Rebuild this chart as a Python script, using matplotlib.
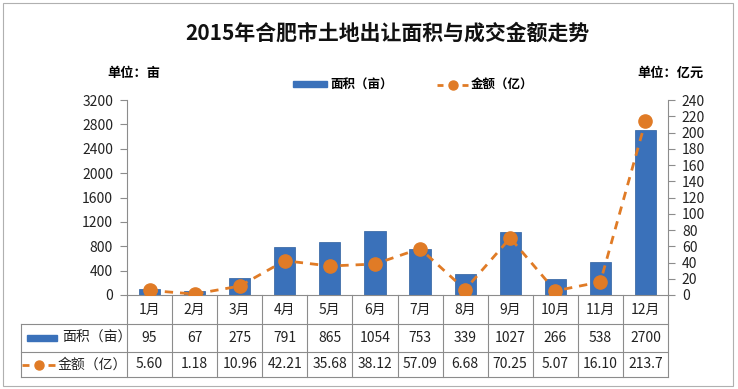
import matplotlib.pyplot as plt
from matplotlib.patches import Rectangle
from matplotlib.lines import Line2D

plt.rcParams['font.family'] = ['Noto Sans CJK SC', 'DejaVu Sans']

months = ['1月', '2月', '3月', '4月', '5月', '6月', '7月', '8月', '9月', '10月', '11月', '12月']
area = [95, 67, 275, 791, 865, 1054, 753, 339, 1027, 266, 538, 2700]
amount = [5.60, 1.18, 10.96, 42.21, 35.68, 38.12, 57.09, 6.68, 70.25, 5.07, 16.10, 213.7]
amount_labels = ['5.60', '1.18', '10.96', '42.21', '35.68', '38.12', '57.09', '6.68', '70.25', '5.07', '16.10', '213.7']

W, H = 738, 389
BLUE = '#3A71BA'
ORANGE = '#E07B26'
GRID = '#8c8c8c'


def fx(px):
    return px / W


def fy(py):
    return 1 - py / H


fig = plt.figure(figsize=(W / 100, H / 100), dpi=100)
fig.add_artist(Rectangle((fx(3), fy(386)), fx(730), (383) / H, fill=False,
                         edgecolor='#b0b0b0', lw=0.8, transform=fig.transFigure))

# main chart
x0, x1, ytop, ybot = 127, 668, 100, 295
ax = fig.add_axes([fx(x0), fy(ybot), (x1 - x0) / W, (ybot - ytop) / H])
xs = list(range(len(months)))
ax.bar(xs, area, width=0.47, color=BLUE, edgecolor='#2d5f9e', lw=0.5, zorder=2)
ax.set_xlim(-0.5, 11.5)
ax.set_ylim(0, 3200)
ax.set_yticks(range(0, 3201, 400))
ax.set_xticks([])
for s in ['top', 'right']:
    ax.spines[s].set_visible(False)
for s in ['left', 'bottom']:
    ax.spines[s].set_color(GRID)
    ax.spines[s].set_linewidth(0.8)
ax.tick_params(axis='y', colors=GRID, labelcolor='#222222', labelsize=10, length=5, width=0.8, pad=5)

ax2 = ax.twinx()
ax2.plot(xs, amount, color=ORANGE, lw=2, dashes=(3, 2.5), marker='o',
         markersize=9.5, markerfacecolor=ORANGE, markeredgecolor=ORANGE, zorder=3)
ax2.set_ylim(0, 240)
ax2.set_yticks(range(0, 241, 20))
for s in ['top', 'left', 'bottom']:
    ax2.spines[s].set_visible(False)
ax2.spines['right'].set_color(GRID)
ax2.spines['right'].set_linewidth(0.8)
ax2.tick_params(axis='y', colors=GRID, labelcolor='#222222', labelsize=10, length=5, width=0.8, pad=5)

# title and units
fig.text(fx(387), fy(33), '2015年合肥市土地出让面积与成交金额走势', ha='center', va='center',
         fontsize=15, fontweight='bold', color='#111111')
fig.text(fx(134), fy(73), '单位：亩', ha='center', va='center', fontsize=9.5, fontweight='bold')
fig.text(fx(670), fy(73), '单位：亿元', ha='center', va='center', fontsize=9.5, fontweight='bold')


def line_key(add, xa, xb, y, msize):
    # dash - dot - dash legend key
    seg = (xb - xa) * 0.2
    add(Line2D([xa, xa + seg], [y, y], color=ORANGE, lw=2, solid_capstyle='butt'))
    add(Line2D([xb - seg, xb], [y, y], color=ORANGE, lw=2, solid_capstyle='butt'))
    add(Line2D([(xa + xb) / 2], [y], color=ORANGE, marker='o', markersize=msize))


# legend
fig.add_artist(Rectangle((fx(293), fy(87)), 34 / W, 6 / H, color=BLUE, transform=fig.transFigure))
fig.text(fx(330), fy(85), '面积（亩）', ha='left', va='center', fontsize=9, fontweight='bold')


def fig_add(artist):
    artist.set_transform(fig.transFigure)
    fig.add_artist(artist)


line_key(fig_add, fx(437), fx(468), fy(85), 6.5)
fig.text(fx(471), fy(85), '金额（亿）', ha='left', va='center', fontsize=9, fontweight='bold')

# data table
tl, tb = 21, 377
cw = (x1 - x0) / 12
tax = fig.add_axes([fx(tl), fy(tb), (x1 - tl) / W, (tb - ybot) / H])
left_u = -0.5 - (x0 - tl) / cw
tax.set_xlim(left_u, 11.5)
tax.set_ylim(tb - ybot, 0)
tax.axis('off')


def u(px):
    return left_u + (px - tl) / cw


r1, r2, r3 = 29, 57, 82
for yy in [r1, r2, r3]:
    tax.plot([left_u, 11.5], [yy, yy], color=GRID, lw=0.8, clip_on=False)
tax.plot([left_u, left_u], [r1, r3], color=GRID, lw=0.8, clip_on=False)
for k in range(13):
    tax.plot([k - 0.5, k - 0.5], [0, r3], color=GRID, lw=0.8, clip_on=False)

for i, m in enumerate(months):
    tax.text(i, r1 / 2, m, ha='center', va='center', fontsize=10, color='#222222')
    tax.text(i, (r1 + r2) / 2, str(area[i]), ha='center', va='center', fontsize=10, color='#222222')
    tax.text(i, (r2 + r3) / 2, amount_labels[i], ha='center', va='center', fontsize=10, color='#222222')

tax.add_patch(Rectangle((u(27), (r1 + r2) / 2 - 3), u(57) - u(27), 6, color=BLUE, clip_on=False))
tax.text(u(62), (r1 + r2) / 2, '面积（亩）', ha='left', va='center', fontsize=10, color='#222222')


def tax_add(artist):
    artist.set_clip_on(False)
    tax.add_line(artist)


line_key(tax_add, u(22), u(55), (r2 + r3) / 2, 6.5)
tax.text(u(58), (r2 + r3) / 2, '金额（亿）', ha='left', va='center', fontsize=10, color='#222222')

fig.savefig('out.png', dpi=100)
